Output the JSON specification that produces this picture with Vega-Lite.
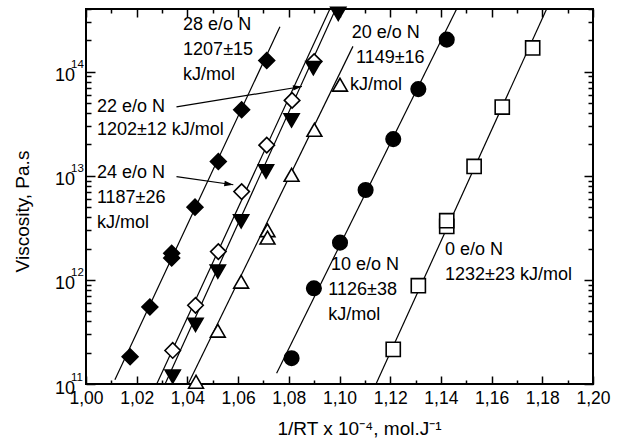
{
  "$schema": "https://vega.github.io/schema/vega-lite/v6.json",
  "width": 507,
  "height": 375,
  "autosize": {"type": "none"},
  "padding": {"left": 86, "top": 9, "right": 26, "bottom": 63},
  "config": {
    "view": {"stroke": "black", "strokeWidth": 2},
    "font": "Liberation Sans",
    "axis": {"labelFont": "Liberation Sans", "titleFont": "Liberation Sans", "labelColor": "black", "titleColor": "black", "tickColor": "black", "tickWidth": 1.5, "grid": false, "domain": false, "labelFlush": false, "labelOverlap": false, "titleFontWeight": "normal"}
  },
  "datasets": {
    "pts": [
      {"series": "28", "x": 1.0174, "y": 1.83e11}, {"series": "28", "x": 1.0252, "y": 5.5e11}, {"series": "28", "x": 1.0338, "y": 1.62e12}, {"series": "28", "x": 1.0338, "y": 1.8e12}, {"series": "28", "x": 1.0430, "y": 5.0e12}, {"series": "28", "x": 1.0522, "y": 1.37e13}, {"series": "28", "x": 1.0614, "y": 4.3e13}, {"series": "28", "x": 1.0713, "y": 1.28e14},
      {"series": "24", "x": 1.0342, "y": 2.1e11}, {"series": "24", "x": 1.0432, "y": 5.7e11}, {"series": "24", "x": 1.0522, "y": 1.87e12}, {"series": "24", "x": 1.0614, "y": 7.05e12}, {"series": "24", "x": 1.0713, "y": 1.97e13}, {"series": "24", "x": 1.0813, "y": 5.3e13}, {"series": "24", "x": 1.0900, "y": 1.25e14},
      {"series": "22", "x": 1.0342, "y": 1.18e11}, {"series": "22", "x": 1.0432, "y": 3.7e11}, {"series": "22", "x": 1.0520, "y": 1.2e12}, {"series": "22", "x": 1.0612, "y": 3.65e12}, {"series": "22", "x": 1.0710, "y": 1.1e13}, {"series": "22", "x": 1.0811, "y": 3.4e13}, {"series": "22", "x": 1.0897, "y": 1.08e14}, {"series": "22", "x": 1.0995, "y": 3.6e14},
      {"series": "20", "x": 1.0434, "y": 1.05e11}, {"series": "20", "x": 1.0520, "y": 3.25e11}, {"series": "20", "x": 1.0612, "y": 9.6e11}, {"series": "20", "x": 1.0716, "y": 3.0e12}, {"series": "20", "x": 1.0716, "y": 2.55e12}, {"series": "20", "x": 1.0811, "y": 1.02e13}, {"series": "20", "x": 1.0901, "y": 2.76e13}, {"series": "20", "x": 1.1002, "y": 7.5e13},
      {"series": "10", "x": 1.0811, "y": 1.77e11}, {"series": "10", "x": 1.0899, "y": 8.3e11}, {"series": "10", "x": 1.1002, "y": 2.28e12}, {"series": "10", "x": 1.1103, "y": 7.3e12}, {"series": "10", "x": 1.1212, "y": 2.25e13}, {"series": "10", "x": 1.1311, "y": 6.8e13}, {"series": "10", "x": 1.1423, "y": 2.03e14},
      {"series": "0", "x": 1.1212, "y": 2.15e11}, {"series": "0", "x": 1.1311, "y": 8.8e11}, {"series": "0", "x": 1.1423, "y": 3.26e12}, {"series": "0", "x": 1.1423, "y": 3.7e12}, {"series": "0", "x": 1.1531, "y": 1.23e13}, {"series": "0", "x": 1.1642, "y": 4.57e13}, {"series": "0", "x": 1.1762, "y": 1.69e14}
    ],
    "fits": [
      {"series": "28", "x": 1.0114, "y": 1.1e11}, {"series": "28", "x": 1.0765, "y": 2.7e14},
      {"series": "24", "x": 1.0279, "y": 1.0e11}, {"series": "24", "x": 1.0962, "y": 4.0e14},
      {"series": "22", "x": 1.0312, "y": 1.0e11}, {"series": "22", "x": 1.0985, "y": 4.0e14},
      {"series": "20", "x": 1.0403, "y": 1.0e11}, {"series": "20", "x": 1.1053, "y": 1.75e14},
      {"series": "10", "x": 1.0752, "y": 1.27e11}, {"series": "10", "x": 1.1462, "y": 4.0e14},
      {"series": "0", "x": 1.1144, "y": 1.0e11}, {"series": "0", "x": 1.1817, "y": 4.0e14}
    ],
    "labels": [
      {"x": 1.0383, "y": 2.81e14, "t": "28 e/o N"}, {"x": 1.0383, "y": 1.62e14, "t": "1207±15"}, {"x": 1.0383, "y": 9.3e13, "t": "kJ/mol"},
      {"x": 1.0043, "y": 4.58e13, "t": "22 e/o N"}, {"x": 1.0043, "y": 2.75e13, "t": "1202±12 kJ/mol"},
      {"x": 1.0043, "y": 1.06e13, "t": "24 e/o N"}, {"x": 1.0043, "y": 6.08e12, "t": "1187±26"}, {"x": 1.0043, "y": 3.52e12, "t": "kJ/mol"},
      {"x": 1.1048, "y": 2.34e14, "t": "20 e/o N"}, {"x": 1.1065, "y": 1.35e14, "t": "1149±16"}, {"x": 1.1041, "y": 7.45e13, "t": "kJ/mol"},
      {"x": 1.0966, "y": 1.39e12, "t": "10 e/o N"}, {"x": 1.0956, "y": 8.0e11, "t": "1126±38"}, {"x": 1.0956, "y": 4.6e11, "t": "kJ/mol"},
      {"x": 1.1416, "y": 1.94e12, "t": "0 e/o N"}, {"x": 1.1416, "y": 1.11e12, "t": "1232±23 kJ/mol"}
    ],
    "arrows": [
      {"a": "22", "x": 1.0357, "y": 4.6e13, "x2": 1.0852, "y2": 7.2e13},
      {"a": "24", "x": 1.0357, "y": 9.8e12, "x2": 1.0581, "y2": 8.2e12}
    ]
  },
  "layer": [
    {
      "data": {"name": "fits"},
      "mark": {"type": "line", "color": "black", "strokeWidth": 1.2},
      "encoding": {
        "x": {"field": "x", "type": "quantitative", "scale": {"domain": [1.0, 1.2], "nice": false, "zero": false},
          "axis": {"orient": "bottom", "values": [1.0, 1.01, 1.02, 1.03, 1.04, 1.05, 1.06, 1.07, 1.08, 1.09, 1.1, 1.11, 1.12, 1.13, 1.14, 1.15, 1.16, 1.17, 1.18, 1.19, 1.2],
            "labelExpr": "round(datum.value*100)%2==0 ? replace(format(datum.value,'.2f'),'.',',') : ''",
            "tickSize": {"condition": {"test": "round(datum.value*100)%2==0", "value": -8}, "value": -4},
            "labelFontSize": 17.5, "labelPadding": 13,
            "title": "1/RT x 10⁻⁴,  mol.J⁻¹", "titleFontSize": 19, "titleX": 273, "titleY": 44, "titleBaseline": "middle", "titleAlign": "center"}},
        "y": {"field": "y", "type": "quantitative", "scale": {"type": "log", "domain": [1e11, 4e14], "nice": false},
          "axis": {"orient": "left", "values": [1e11, 2e11, 3e11, 4e11, 5e11, 6e11, 7e11, 8e11, 9e11, 1e12, 2e12, 3e12, 4e12, 5e12, 6e12, 7e12, 8e12, 9e12, 1e13, 2e13, 3e13, 4e13, 5e13, 6e13, 7e13, 8e13, 9e13, 1e14, 2e14, 3e14, 4e14],
            "labelExpr": "datum.value==1e11||datum.value==1e12||datum.value==1e13||datum.value==1e14 ? '10' : ''",
            "tickSize": {"condition": {"test": "datum.value==1e11||datum.value==1e12||datum.value==1e13||datum.value==1e14", "value": -9}, "value": -5},
            "labelFontSize": 18, "labelPadding": 20.5, "labelOffset": 4,
            "title": "Viscosity,  Pa.s", "titleFontSize": 19, "titleX": -64, "titleY": 202, "titleBaseline": "middle", "titleAlign": "center", "titleAngle": -90}},
        "detail": {"field": "series", "type": "nominal"}
      }
    },
    {
      "data": {"name": "arrows"},
      "mark": {"type": "rule", "color": "black", "strokeWidth": 1.2},
      "encoding": {
        "x": {"field": "x", "type": "quantitative", "scale": {"domain": [1.0, 1.2], "nice": false, "zero": false}, "axis": null},
        "y": {"field": "y", "type": "quantitative", "scale": {"type": "log", "domain": [1e11, 4e14], "nice": false},
          "axis": {"orient": "left", "values": [1e11, 1e12, 1e13, 1e14], "ticks": false, "title": null,
            "labelExpr": "datum.value==1e11?'11':datum.value==1e12?'12':datum.value==1e13?'13':datum.value==1e14?'14':''",
            "labelFontSize": 11.5, "labelAlign": "left", "labelPadding": 15.5, "labelOffset": -7}},
        "x2": {"field": "x2"},
        "y2": {"field": "y2"}
      }
    },
    {
      "data": {"name": "arrows"},
      "transform": [{"filter": "datum.a=='22'"}],
      "mark": {"type": "point", "shape": "M0,0L-2,-0.6L-2,0.6Z", "filled": true, "color": "black", "size": 81, "angle": 351.5, "opacity": 1},
      "encoding": {
        "x": {"field": "x2", "type": "quantitative", "scale": {"domain": [1.0, 1.2], "nice": false, "zero": false}, "axis": null},
        "y": {"field": "y2", "type": "quantitative", "scale": {"type": "log", "domain": [1e11, 4e14], "nice": false}, "axis": null}
      }
    },
    {
      "data": {"name": "arrows"},
      "transform": [{"filter": "datum.a=='24'"}],
      "mark": {"type": "point", "shape": "M0,0L-2,-0.6L-2,0.6Z", "filled": true, "color": "black", "size": 81, "angle": 8.3, "opacity": 1},
      "encoding": {
        "x": {"field": "x2", "type": "quantitative", "scale": {"domain": [1.0, 1.2], "nice": false, "zero": false}, "axis": null},
        "y": {"field": "y2", "type": "quantitative", "scale": {"type": "log", "domain": [1e11, 4e14], "nice": false}, "axis": null}
      }
    },
    {
      "data": {"name": "pts"},
      "mark": {"type": "point", "filled": true, "stroke": "black", "strokeWidth": 1.6, "opacity": 1},
      "encoding": {
        "x": {"field": "x", "type": "quantitative", "scale": {"domain": [1.0, 1.2], "nice": false, "zero": false},
          "axis": {"orient": "top", "values": [1.0, 1.01, 1.02, 1.03, 1.04, 1.05, 1.06, 1.07, 1.08, 1.09, 1.1, 1.11, 1.12, 1.13, 1.14, 1.15, 1.16, 1.17, 1.18, 1.19, 1.2], "labels": false, "title": null,
            "tickSize": {"condition": {"test": "round(datum.value*100)%2==0", "value": -8}, "value": -4}}},
        "y": {"field": "y", "type": "quantitative", "scale": {"type": "log", "domain": [1e11, 4e14], "nice": false},
          "axis": {"orient": "right", "values": [1e11, 2e11, 3e11, 4e11, 5e11, 6e11, 7e11, 8e11, 9e11, 1e12, 2e12, 3e12, 4e12, 5e12, 6e12, 7e12, 8e12, 9e12, 1e13, 2e13, 3e13, 4e13, 5e13, 6e13, 7e13, 8e13, 9e13, 1e14, 2e14, 3e14, 4e14], "labels": false, "title": null,
            "tickSize": {"condition": {"test": "datum.value==1e11||datum.value==1e12||datum.value==1e13||datum.value==1e14", "value": -9}, "value": -5}}},
        "shape": {"field": "series", "type": "nominal", "scale": {"domain": ["28", "24", "22", "20", "10", "0"], "range": ["diamond", "diamond", "triangle-down", "triangle-up", "circle", "square"]}, "legend": null},
        "fill": {"field": "series", "type": "nominal", "scale": {"domain": ["28", "24", "22", "20", "10", "0"], "range": ["black", "white", "black", "white", "black", "white"]}, "legend": null},
        "size": {"field": "series", "type": "nominal", "scale": {"domain": ["28", "24", "22", "20", "10", "0"], "range": [250, 200, 230, 180, 196, 144]}, "legend": null}
      }
    },
    {
      "data": {"name": "labels"},
      "mark": {"type": "text", "align": "left", "baseline": "middle", "fontSize": 18, "font": "Liberation Sans", "color": "black"},
      "encoding": {
        "x": {"field": "x", "type": "quantitative", "scale": {"domain": [1.0, 1.2], "nice": false, "zero": false}, "axis": null},
        "y": {"field": "y", "type": "quantitative", "scale": {"type": "log", "domain": [1e11, 4e14], "nice": false}, "axis": null},
        "text": {"field": "t", "type": "nominal"}
      }
    }
  ],
  "resolve": {"axis": {"x": "independent", "y": "independent"}}
}
